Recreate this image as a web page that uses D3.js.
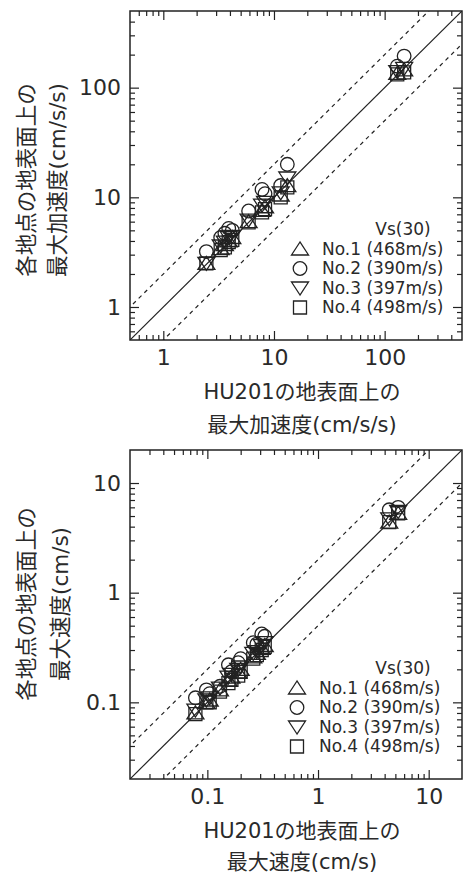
<!DOCTYPE html>
<html>
<head>
<meta charset="utf-8">
<script src="https://cdn.jsdelivr.net/npm/d3@7"></script>
<style>
body { margin: 0; background: #fff; }
text { font-family: "DejaVu Sans", "Noto Sans CJK JP", sans-serif; fill: #2a2a2a; }
</style>
</head>
<body>
<div id="chart"></div>
<script>
// stations (legend)
var stations = ["No.1 (468m/s)", "No.2 (390m/s)", "No.3 (397m/s)", "No.4 (498m/s)"];
var shapes = ["up", "circle", "down", "square"];

// peak acceleration (cm/s/s): HU201 on x, each station on y
var accX  = [2.45, 3.3, 3.6, 3.9, 4.2, 5.9, 7.8, 8.3, 11.5, 13.2, 130, 150];
var accN1 = [2.5, 3.4, 3.7, 4.0, 4.3, 6.0, 7.6, 8.2, 10.5, 12.8, 135, 145];
var accN2 = [3.2, 4.3, 4.7, 5.2, 5.0, 7.5, 11.8, 10.8, 12.8, 20, 157, 194];
var accN3 = [2.5, 3.6, 3.9, 4.3, 4.4, 6.2, 8.5, 9.0, 11, 15, 140, 150];
var accN4 = [2.5, 3.3, 3.5, 3.9, 4.1, 5.9, 7.3, 7.8, 10, 12.3, 132, 138];

// peak velocity (cm/s)
var velX  = [0.078, 0.098, 0.105, 0.13, 0.155, 0.165, 0.19, 0.2, 0.26, 0.28, 0.31, 0.33, 4.4, 5.3];
var velN1 = [0.08, 0.10, 0.105, 0.13, 0.16, 0.17, 0.19, 0.2, 0.26, 0.28, 0.31, 0.33, 4.4, 5.3];
var velN2 = [0.11, 0.13, 0.12, 0.14, 0.22, 0.19, 0.23, 0.25, 0.35, 0.34, 0.42, 0.40, 5.7, 6.0];
var velN3 = [0.085, 0.105, 0.11, 0.135, 0.17, 0.18, 0.2, 0.21, 0.28, 0.29, 0.33, 0.35, 4.7, 5.5];
var velN4 = [0.078, 0.1, 0.1, 0.125, 0.15, 0.16, 0.175, 0.19, 0.25, 0.27, 0.3, 0.32, 4.4, 5.3];

var accTicks = [1, 10, 100];
var velTicks = [0.1, 1, 10];

var svg = d3.select("#chart").append("svg")
    .attr("width", 465)
    .attr("height", 876);

var ink = "#222";

// marker outline, centred on 0,0
function shapePath(s) {
    if (s == "up") return "M0,-7L-8.5,6L8.5,6Z";
    if (s == "down") return "M0,7L-8.5,-6L8.5,-6Z";
    if (s == "square") return "M-6.5,-6.5H6.5V6.5H-6.5Z";
    return d3.symbol().type(d3.symbolCircle).size(Math.PI * 6.8 * 6.8)();
}

function minorTicks(domain) {
    var out = [];
    var lo = Math.floor(Math.log10(domain[0])), hi = Math.ceil(Math.log10(domain[1]));
    for (var k = lo; k <= hi; k++) {
        for (var m = 2; m <= 9; m++) {
            var v = m * Math.pow(10, k);
            if (v > domain[0] * 1.001 && v < domain[1] * 0.999) out.push(v);
        }
    }
    return out;
}

function drawPlot(opt) {
    var x = d3.scaleLog().domain(opt.domain).range([130, 462]);
    var y = d3.scaleLog().domain(opt.domain).range([opt.bottom, opt.bottom - 329]);
    var top = opt.bottom - 329;
    var g = svg.append("g");

    var clipId = "clip" + opt.id;
    svg.append("clipPath").attr("id", clipId)
        .append("rect").attr("x", 130).attr("y", top).attr("width", 332).attr("height", 329);

    // reference lines: 1:1, x2 and x1/2
    var lines = g.append("g").attr("clip-path", "url(#" + clipId + ")");
    [[1, null], [2, "4,4"], [0.5, "4,4"]].forEach(function(r) {
        lines.append("line")
            .attr("x1", x(opt.domain[0] / 10)).attr("y1", y(opt.domain[0] / 10 * r[0]))
            .attr("x2", x(opt.domain[1] * 10)).attr("y2", y(opt.domain[1] * 10 * r[0]))
            .attr("stroke", ink).attr("stroke-width", 1.2)
            .attr("stroke-dasharray", r[1]);
    });

    // markers
    opt.series.forEach(function(vals, i) {
        g.append("g").selectAll("path")
            .data(vals.map(function(v, j) { return [opt.xs[j], v]; }))
            .enter().append("path")
            .attr("transform", function(d) { return "translate(" + x(d[0]) + "," + y(d[1]) + ")"; })
            .attr("d", shapePath(shapes[i]))
            .attr("fill", "none").attr("stroke", ink).attr("stroke-width", 1.3);
    });

    // axes, ticks pointing inward
    var minors = minorTicks(opt.domain);
    var fmt = function(d) { return d3.format("~g")(d); };
    function axis(gen, scale, vals, size, labels) {
        return gen(scale).tickValues(vals).tickSize(size).tickPadding(labels ? 9 : 0)
            .tickFormat(labels ? fmt : "");
    }
    var axes = [
        [d3.axisBottom, x, "translate(0," + opt.bottom + ")", -9, -5, true],
        [d3.axisTop, x, "translate(0," + top + ")", -9, -5, false],
        [d3.axisLeft, y, "translate(130,0)", -9, -5, true],
        [d3.axisRight, y, "translate(462,0)", -9, -5, false]
    ];
    axes.forEach(function(a) {
        var ga = g.append("g").attr("transform", a[2]);
        ga.call(axis(a[0], a[1], opt.ticks, a[3], a[5]));
        ga.append("g").call(axis(a[0], a[1], minors, a[4], false));
        ga.selectAll(".domain").remove();
        ga.selectAll("line").attr("stroke", ink).attr("stroke-width", 1.2);
        ga.selectAll("text").attr("font-size", 22).attr("fill", "#2a2a2a")
            .style("font-family", "'DejaVu Sans', sans-serif");
    });

    g.append("rect").attr("x", 130).attr("y", top).attr("width", 332).attr("height", 329)
        .attr("fill", "none").attr("stroke", ink).attr("stroke-width", 1.5);

    // legend
    var lg = g.append("g");
    lg.append("text").attr("x", 403).attr("y", opt.legY).attr("dy", "0.35em")
        .attr("text-anchor", "middle").attr("font-size", 17).text("Vs(30)");
    stations.forEach(function(s, i) {
        var yy = opt.legY + 20 + i * 19.5;
        lg.append("path").attr("transform", "translate(" + opt.legSym + "," + yy + ")")
            .attr("d", shapePath(shapes[i]))
            .attr("fill", "none").attr("stroke", ink).attr("stroke-width", 1.3);
        lg.append("text").attr("x", opt.legSym + 22).attr("y", yy).attr("dy", "0.35em")
            .attr("font-size", 17).text(s);
    });

    // axis titles
    opt.xTitle.forEach(function(t, i) {
        g.append("text").attr("x", 302).attr("y", opt.xTitleY + i * opt.xGap).attr("dy", "0.35em")
            .attr("text-anchor", "middle").attr("font-size", 21).text(t);
    });
    opt.yTitle.forEach(function(t, i) {
        g.append("text")
            .attr("transform", "translate(" + (26 + i * opt.yGap) + "," + opt.yTitleY + ") rotate(-90)")
            .attr("dy", "0.35em").attr("text-anchor", "middle").attr("font-size", 21.5).text(t);
    });
}

drawPlot({
    id: 1, domain: [0.5, 500], bottom: 340, ticks: accTicks,
    xs: accX, series: [accN1, accN2, accN3, accN4],
    legY: 229, legSym: 300,
    xTitle: ["HU201の地表面上の", "最大加速度(cm/s/s)"], xTitleY: 392, xGap: 33,
    yTitle: ["各地点の地表面上の", "最大加速度(cm/s/s)"], yTitleY: 180, yGap: 31
});

drawPlot({
    id: 2, domain: [0.02, 20], bottom: 779, ticks: velTicks,
    xs: velX, series: [velN1, velN2, velN3, velN4],
    legY: 668, legSym: 297,
    xTitle: ["HU201の地表面上の", "最大速度(cm/s)"], xTitleY: 831, xGap: 31,
    yTitle: ["各地点の地表面上の", "最大速度(cm/s)"], yTitleY: 604, yGap: 34
});
</script>
</body>
</html>
